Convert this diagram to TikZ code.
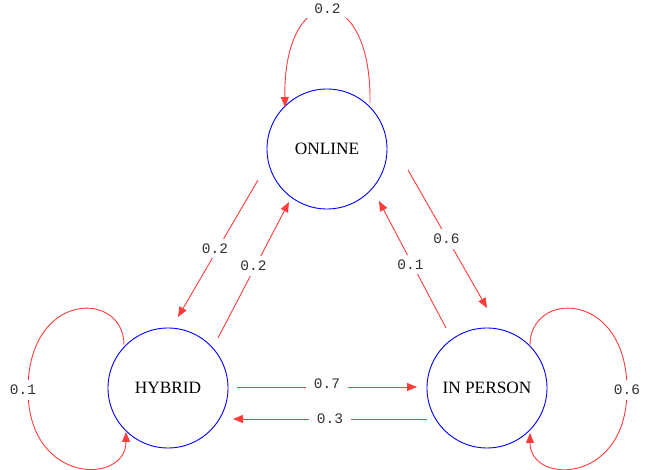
\documentclass[tikz,border=0pt]{standalone}
\usepackage{fontspec}
\setmainfont{Liberation Serif}
\newfontfamily\labfont{Liberation Mono}
\usetikzlibrary{arrows.meta,calc}
\definecolor{edgered}{RGB}{255,60,60}
\definecolor{labgray}{RGB}{50,50,50}
\tikzset{
  state/.style={circle,draw=blue,line width=0.9pt,minimum size=120pt,inner sep=0pt,font=\fontsize{17.3}{19}\selectfont},
  arr/.style={draw=edgered,line width=0.9pt,-{Triangle[length=10pt,width=8pt]}},
  lab/.style={fill=white,inner xsep=8pt,inner ysep=5pt,text=labgray,font=\labfont\fontsize{14.5}{16}\selectfont}
}
\begin{document}
\begin{tikzpicture}[x=1pt,y=-1pt]
\useasboundingbox (0,0) rectangle (649,470);
\node[state] (online) at (327,149) {ONLINE};
\node[state] (hybrid) at (168,388) {HYBRID};
\node[state] (inperson) at (487,388) {IN PERSON};
% online <-> hybrid
\draw[arr] ($(online)+(-69,31)$) -- node[lab,xshift=-3pt]{0.2} ($(hybrid)+(10,-71)$);
\draw[arr] ($(hybrid)+(50,-50)$) -- node[lab,yshift=4pt]{0.2} ($(online)+(-38,53)$);
% online <-> in person
\draw[arr] ($(online)+(81,21)$) -- node[lab,xshift=-1pt]{0.6} ($(inperson)+(0,-80)$);
\draw[arr] ($(inperson)+(-41,-60)$) -- node[lab,xshift=-2pt]{0.1} ($(online)+(52,52)$);
% hybrid <-> in person
\draw[arr] ($(hybrid)+(69,-1)$) -- node[lab,yshift=3pt]{0.7} ($(inperson)+(-70,-1)$);
\draw[arr] ($(inperson)+(-60,31)$) -- node[lab]{0.3} ($(hybrid)+(65,31)$);
% self loops
\draw[arr] ($(online)+(43,-46)$) .. controls ($(online)+(45,-170)$) and ($(online)+(-44,-170)$) .. node[lab,pos=0.5,yshift=2pt]{0.2} ($(online)+(-42,-42)$);
\draw[arr] ($(hybrid)+(-44,-43)$) .. controls ($(hybrid)+(-44,-98)$) and ($(hybrid)+(-140,-98)$) .. ($(hybrid)+(-140,2)$) node[lab,xshift=-5pt]{0.1} .. controls ($(hybrid)+(-140,97)$) and ($(hybrid)+(-42,97)$) .. ($(hybrid)+(-42,44)$);
\draw[arr] ($(inperson)+(43,-43)$) .. controls ($(inperson)+(43,-98)$) and ($(inperson)+(140,-98)$) .. ($(inperson)+(140,2)$) node[lab]{0.6} .. controls ($(inperson)+(140,97)$) and ($(inperson)+(43,97)$) .. ($(inperson)+(43,45)$);
\end{tikzpicture}
\end{document}
